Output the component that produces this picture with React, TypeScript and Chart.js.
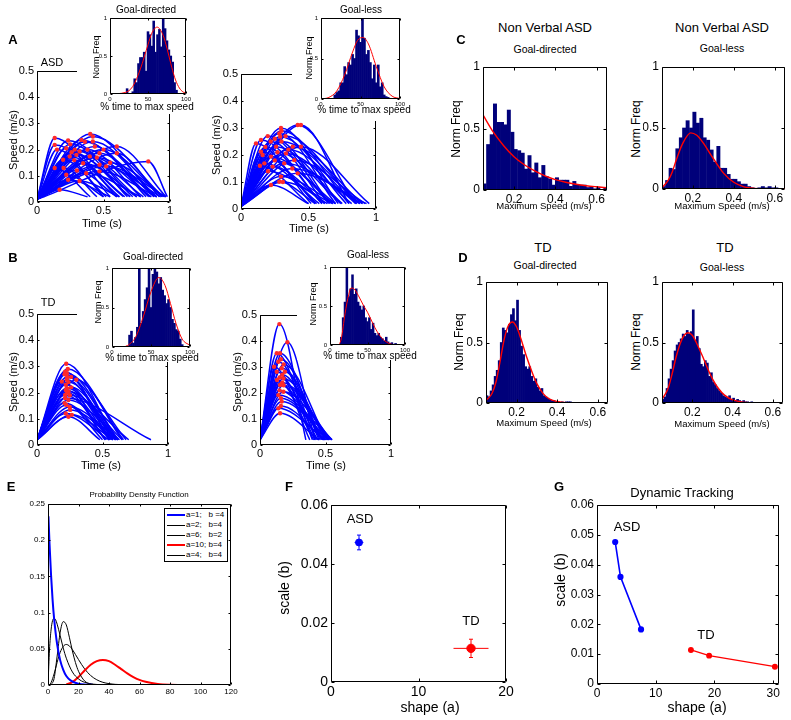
import React, { useEffect, useRef } from 'react';
import { Chart, registerables } from 'chart.js';

Chart.register(...registerables);

const FONT = "'Liberation Sans', Arial, Helvetica, sans-serif";

// ---------------- tick values ----------------
const speedTicksX = [0, 0.5, 1];
const speedTicksY = [0, 0.1, 0.2, 0.3, 0.4, 0.5];
const pctTicksX = [0, 50, 100];
const normTicksY = [0, 0.5, 1];
const maxSpeedTicksX = [0.2, 0.4, 0.6];
const pdfTicksX = [0, 20, 40, 60, 80, 100, 120];
const pdfTicksY = [0, 0.05, 0.1, 0.15, 0.2, 0.25];
const fTicksX = [0, 10, 20];
const fTicksY = [0, 0.02, 0.04, 0.06];
const gTicksX = [0, 10, 20, 30];
const gTicksY = [0, 0.01, 0.02, 0.03, 0.04, 0.05, 0.06];

// ---------------- speed profiles (peak time, peak speed, end time) ----------------
const asdStartSpeed = 0.01;
const tdStartSpeed = 0.02;
const endSpeed = 0.02;

const asdGdPeakT = [0.133, 0.133, 0.133, 0.234, 0.22, 0.284, 0.32, 0.334, 0.347, 0.42, 0.42, 0.435, 0.47, 0.47, 0.52, 0.6, 0.6, 0.837, 0.234, 0.22, 0.37, 0.296, 0.397, 0.196, 0.246, 0.17, 0.47, 0.4, 0.38, 0.25, 0.55, 0.3, 0.15, 0.28, 0.36, 0.45, 0.2, 0.32, 0.5, 0.26];
const asdGdPeakV = [0.244, 0.218, 0.13, 0.235, 0.205, 0.2, 0.193, 0.237, 0.148, 0.25, 0.231, 0.212, 0.186, 0.142, 0.136, 0.212, 0.186, 0.155, 0.085, 0.104, 0.11, 0.18, 0.174, 0.161, 0.174, 0.047, 0.117, 0.26, 0.2, 0.22, 0.15, 0.12, 0.2, 0.16, 0.23, 0.17, 0.13, 0.08, 0.2, 0.19];
const asdGdEndT = [0.55, 0.62, 0.4, 0.72, 0.6, 0.8, 0.68, 0.85, 0.75, 0.95, 0.9, 0.82, 0.88, 0.93, 0.97, 0.97, 0.92, 0.98, 0.55, 0.5, 0.78, 0.7, 0.86, 0.52, 0.65, 0.38, 0.9, 0.88, 0.78, 0.75, 0.96, 0.6, 0.5, 0.66, 0.84, 0.9, 0.45, 0.62, 0.94, 0.7];

const asdGlPeakT = [0.148, 0.198, 0.296, 0.284, 0.29, 0.42, 0.444, 0.444, 0.383, 0.148, 0.222, 0.26, 0.333, 0.395, 0.173, 0.235, 0.32, 0.296, 0.42, 0.222, 0.284, 0.111, 0.3, 0.25, 0.35, 0.18, 0.3, 0.2, 0.16, 0.27, 0.33, 0.22, 0.38, 0.25, 0.14, 0.31];
const asdGlPeakV = [0.256, 0.27, 0.3, 0.28, 0.268, 0.311, 0.311, 0.231, 0.231, 0.212, 0.194, 0.231, 0.206, 0.181, 0.169, 0.157, 0.169, 0.12, 0.132, 0.089, 0.101, 0.243, 0.29, 0.26, 0.22, 0.23, 0.25, 0.14, 0.2, 0.21, 0.27, 0.25, 0.15, 0.18, 0.16, 0.1];
const asdGlEndT = [0.6, 0.65, 0.72, 0.7, 0.78, 0.85, 0.8, 0.95, 0.9, 0.55, 0.68, 0.75, 0.82, 0.92, 0.58, 0.62, 0.88, 0.7, 0.93, 0.5, 0.55, 0.52, 0.8, 0.66, 0.85, 0.6, 0.88, 0.64, 0.56, 0.74, 0.86, 0.62, 0.9, 0.7, 0.5, 0.68];

const tdGdPeakT = [0.223, 0.215, 0.228, 0.228, 0.3, 0.19, 0.228, 0.215, 0.24, 0.223, 0.253, 0.266, 0.24, 0.215, 0.24, 0.23, 0.22, 0.25, 0.21, 0.235, 0.26, 0.22, 0.22, 0.24, 0.21, 0.25, 0.23, 0.26];
const tdGdPeakV = [0.31, 0.28, 0.274, 0.249, 0.249, 0.242, 0.217, 0.191, 0.172, 0.153, 0.134, 0.115, 0.108, 0.179, 0.204, 0.26, 0.23, 0.19, 0.16, 0.29, 0.22, 0.12, 0.21, 0.24, 0.27, 0.145, 0.2, 0.26];
const tdGdEndT = [0.6, 0.55, 0.62, 0.58, 0.65, 0.52, 0.6, 0.56, 0.63, 0.5, 0.6, 0.58, 0.48, 0.87, 0.65, 0.62, 0.57, 0.7, 0.53, 0.66, 0.61, 0.55, 0.56, 0.6, 0.58, 0.62, 0.52, 0.68];

const tdGlPeakT = [0.148, 0.209, 0.128, 0.153, 0.107, 0.166, 0.179, 0.153, 0.14, 0.166, 0.14, 0.153, 0.179, 0.19, 0.128, 0.16, 0.17, 0.15, 0.16, 0.18, 0.15, 0.17, 0.14, 0.16, 0.18, 0.13];
const tdGlPeakV = [0.465, 0.395, 0.353, 0.353, 0.301, 0.295, 0.256, 0.231, 0.192, 0.167, 0.141, 0.122, 0.205, 0.282, 0.282, 0.33, 0.24, 0.26, 0.15, 0.31, 0.21, 0.27, 0.32, 0.18, 0.23, 0.25];
const tdGlEndT = [0.35, 0.42, 0.4, 0.45, 0.38, 0.5, 0.52, 0.48, 0.55, 0.53, 0.5, 0.45, 0.55, 0.46, 0.42, 0.47, 0.54, 0.44, 0.49, 0.51, 0.5, 0.48, 0.43, 0.52, 0.53, 0.41];

// ---------------- inset histograms: % time to max speed ----------------
const asdGdPctX = [22.5, 25, 27.5, 30, 32.5, 35, 37.5, 40, 42.5, 45, 47.5, 50, 52.5, 55, 57.5, 60, 62.5, 65, 67.5, 70, 72.5, 75, 77.5, 80, 82.5, 85, 87.5];
const asdGdPctY = [0.07, 0, 0, 0.03, 0.2, 0.15, 0.4, 0.48, 0.48, 0.55, 0.3, 0.82, 0.78, 0.63, 0.96, 0.55, 0.78, 0.85, 0.62, 1.0, 0.86, 0.7, 0.58, 0.5, 0.42, 0.15, 0.05];
const asdGdPctFitX = [0, 20, 30, 40, 50, 55, 62, 70, 75, 80, 85, 90, 95, 100];
const asdGdPctFitY = [0, 0.02, 0.1, 0.33, 0.65, 0.8, 0.88, 0.77, 0.6, 0.4, 0.22, 0.1, 0.035, 0.01];

const asdGlPctX = [17.5, 20, 22.5, 25, 27.5, 30, 32.5, 35, 37.5, 40, 42.5, 45, 47.5, 50, 52.5, 55, 57.5, 60, 62.5, 65, 67.5, 70, 72.5, 75, 77.5, 80, 82.5, 85];
const asdGlPctY = [0.05, 0.08, 0.1, 0.2, 0.2, 0.4, 0.3, 0.45, 0.42, 0.55, 0.5, 0.85, 0.78, 0.7, 1.0, 0.75, 0.55, 0.6, 0.45, 0.25, 0.42, 0.2, 0.42, 0.15, 0.2, 0.05, 0.03, 0.02];
const asdGlPctFitX = [0, 10, 20, 30, 40, 46, 53, 60, 70, 80, 90, 100];
const asdGlPctFitY = [0, 0.02, 0.1, 0.3, 0.58, 0.72, 0.76, 0.68, 0.4, 0.15, 0.035, 0.005];

const tdGdPctX = [22.5, 25, 27.5, 30, 32.5, 35, 37.5, 40, 42.5, 45, 47.5, 50, 52.5, 55, 57.5, 60, 62.5, 65, 67.5, 70, 72.5, 75, 77.5, 80, 82.5, 85, 87.5, 90];
const tdGdPctY = [0.15, 0.2, 0.05, 0.12, 0.25, 1.0, 0.3, 0.45, 0.6, 0.75, 1.0, 0.5, 0.92, 1.0, 0.95, 0.8, 0.88, 0.72, 0.65, 0.55, 0.6, 0.5, 0.35, 0.3, 0.22, 0.2, 0.1, 0.03];
const tdGdPctFitX = [15, 20, 30, 40, 50, 60, 68, 75, 82, 90, 100];
const tdGdPctFitY = [0, 0.02, 0.12, 0.38, 0.7, 0.88, 0.78, 0.55, 0.3, 0.1, 0.02];

const tdGlPctX = [15, 17.5, 20, 22.5, 25, 27.5, 30, 32.5, 35, 37.5, 40, 42.5, 45, 47.5, 50, 52.5, 55, 57.5, 60, 62.5, 65, 67.5, 70, 72.5, 75, 77.5, 80, 82.5, 85, 87.5];
const tdGlPctY = [0.1, 0.35, 0.55, 1.0, 0.62, 0.72, 0.9, 0.65, 0.72, 0.55, 0.5, 0.45, 0.5, 0.35, 0.3, 0.35, 0.2, 0.28, 0.15, 0.12, 0.15, 0.1, 0.08, 0.05, 0.1, 0.04, 0.02, 0.03, 0.01, 0.02];
const tdGlPctFitX = [12, 15, 20, 25, 28, 32, 38, 45, 50, 55, 60, 65, 70, 75, 80, 85, 100];
const tdGlPctFitY = [0, 0.08, 0.4, 0.65, 0.73, 0.72, 0.63, 0.5, 0.42, 0.32, 0.22, 0.14, 0.08, 0.04, 0.015, 0.005, 0];

// ---------------- max speed histograms ----------------
const nvBinX = [0.058, 0.075, 0.092, 0.108, 0.125, 0.142, 0.158, 0.175, 0.192, 0.208, 0.225, 0.242, 0.258, 0.275, 0.292, 0.308, 0.325, 0.342, 0.358, 0.375, 0.392, 0.408, 0.425, 0.442, 0.458, 0.475, 0.492, 0.508, 0.525, 0.542, 0.558, 0.575, 0.592, 0.608, 0.625, 0.642];
const nvGdFreq = [0.05, 0.37, 0.45, 0.7, 0.55, 0.55, 0.53, 0.65, 0.47, 0.33, 0.32, 0.3, 0.17, 0.28, 0.14, 0.22, 0.1, 0.2, 0.11, 0.09, 0.04, 0.1, 0.08, 0.08, 0.08, 0.03, 0.07, 0.04, 0.04, 0.04, 0.02, 0.03, 0.01, 0.02, 0.0, 0.02];
const nvGdFitX = [0.05, 0.1, 0.15, 0.2, 0.25, 0.3, 0.35, 0.4, 0.45, 0.5, 0.55, 0.6, 0.65];
const nvGdFitY = [0.61, 0.47, 0.36, 0.27, 0.205, 0.155, 0.115, 0.085, 0.063, 0.047, 0.035, 0.026, 0.018];
const nvGlFreq = [0.02, 0.07, 0.17, 0.16, 0.33, 0.42, 0.5, 0.56, 0.5, 0.63, 0.54, 0.58, 0.42, 0.4, 0.32, 0.22, 0.35, 0.17, 0.17, 0.12, 0.08, 0.08, 0.06, 0.04, 0.04, 0.02, 0.01, 0.0, 0.01, 0.02, 0.01, 0.02, 0.01, 0.01, 0.0, 0.0];
const nvGlFitX = [0.05, 0.08, 0.1, 0.12, 0.15, 0.19, 0.22, 0.25, 0.3, 0.35, 0.4, 0.45, 0.5, 0.55, 0.65];
const nvGlFitY = [0.01, 0.07, 0.14, 0.24, 0.37, 0.46, 0.44, 0.38, 0.25, 0.13, 0.055, 0.018, 0.005, 0.001, 0];

const tdBinX = [0.055, 0.065, 0.075, 0.085, 0.095, 0.105, 0.115, 0.125, 0.135, 0.145, 0.155, 0.165, 0.175, 0.185, 0.195, 0.205, 0.215, 0.225, 0.235, 0.245, 0.255, 0.265, 0.275, 0.285, 0.295, 0.305, 0.315, 0.325, 0.335, 0.345, 0.355, 0.365, 0.375, 0.385, 0.395, 0.405, 0.415, 0.425, 0.435, 0.445, 0.455, 0.465, 0.475, 0.485, 0.495, 0.505];
const tdGdFreq = [0.06, 0.05, 0.1, 0.15, 0.22, 0.27, 0.35, 0.5, 0.62, 0.6, 0.58, 0.65, 0.73, 0.78, 0.68, 0.85, 0.6, 0.47, 0.4, 0.3, 0.28, 0.3, 0.22, 0.18, 0.2, 0.13, 0.1, 0.12, 0.06, 0.05, 0.04, 0.03, 0.02, 0.02, 0.01, 0.01, 0.0, 0.01, 0.0, 0.01, 0.01, 0.01, 0, 0, 0, 0];
const tdGdSpeedFitX = [0.05, 0.08, 0.1, 0.12, 0.14, 0.16, 0.18, 0.2, 0.22, 0.25, 0.28, 0.3, 0.33, 0.36, 0.4, 0.45, 0.5];
const tdGdSpeedFitY = [0.02, 0.08, 0.18, 0.35, 0.53, 0.64, 0.67, 0.63, 0.54, 0.38, 0.24, 0.16, 0.08, 0.035, 0.012, 0.002, 0];
const tdGlFreq = [0.03, 0.05, 0.12, 0.2, 0.28, 0.35, 0.43, 0.48, 0.5, 0.53, 0.57, 0.55, 0.6, 0.57, 0.59, 0.77, 0.52, 0.55, 0.45, 0.32, 0.3, 0.35, 0.33, 0.22, 0.25, 0.17, 0.15, 0.12, 0.1, 0.08, 0.06, 0.05, 0.04, 0.06, 0.03, 0.04, 0.02, 0.03, 0.02, 0.01, 0.02, 0.01, 0.01, 0.0, 0.01, 0];
const tdGlSpeedFitX = [0.05, 0.08, 0.1, 0.12, 0.14, 0.16, 0.18, 0.2, 0.22, 0.25, 0.28, 0.3, 0.33, 0.36, 0.4, 0.45, 0.5];
const tdGlSpeedFitY = [0.03, 0.12, 0.24, 0.38, 0.49, 0.56, 0.58, 0.56, 0.5, 0.39, 0.27, 0.2, 0.12, 0.065, 0.025, 0.007, 0.001];

// ---------------- E: probability density functions ----------------
const pdfLabels = ['a=1;   b =4', 'a=2;   b=4', 'a=6;   b=2', 'a=10; b=4', 'a=4;   b=4'];
const pdfColors = ['#0000ff', '#000000', '#000000', '#ff0000', '#000000'];
const pdfWidths = [2, 1, 1, 2, 1];
const pdfA1X = [0.3, 1, 2, 3, 4, 6, 8, 10, 12, 15, 20, 25, 30];
const pdfA1Y = [0.233, 0.195, 0.152, 0.118, 0.092, 0.056, 0.034, 0.021, 0.0125, 0.006, 0.0017, 0.0005, 0.0001];
const pdfA2X = [0, 1, 2, 3, 4, 5, 6, 8, 10, 12, 16, 20, 24, 30, 36, 44];
const pdfA2Y = [0, 0.049, 0.076, 0.089, 0.092, 0.09, 0.084, 0.068, 0.051, 0.037, 0.018, 0.0084, 0.0037, 0.0011, 0.0003, 0.00005];
const pdfA6X = [2, 4, 6, 8, 10, 12, 14, 16, 18, 20, 24, 28, 34];
const pdfA6Y = [0.0003, 0.009, 0.04, 0.073, 0.0875, 0.083, 0.066, 0.047, 0.031, 0.019, 0.0056, 0.0014, 0.0001];
const pdfA10X = [12, 16, 20, 24, 28, 32, 36, 40, 44, 48, 52, 56, 60, 64, 72, 80, 90, 100];
const pdfA10Y = [0.0007, 0.004, 0.011, 0.02, 0.028, 0.033, 0.0347, 0.033, 0.028, 0.022, 0.016, 0.011, 0.007, 0.0045, 0.0015, 0.0004, 0.0001, 0];
const pdfA4X = [1, 2, 4, 6, 8, 10, 12, 14, 16, 20, 24, 28, 32, 36, 44, 56];
const pdfA4Y = [0.0004, 0.0032, 0.0153, 0.0314, 0.0451, 0.0534, 0.056, 0.054, 0.0489, 0.0351, 0.0223, 0.013, 0.0072, 0.0037, 0.0009, 0.0001];

// ---------------- F: shape / scale with error ----------------
const fGroups = ['ASD', 'TD'];
const fColors = ['#0000ff', '#ff0000'];
const fShape = [3.2, 16];
const fScale = [0.0473, 0.0114];
const fShapeErr = [0.5, 2.0];
const fScaleErr = [0.0025, 0.0031];

// ---------------- G: dynamic tracking ----------------
const gAsdShape = [3.1, 4.0, 7.5];
const gAsdScale = [0.0476, 0.0359, 0.0183];
const gTdShape = [16, 19.1, 30.3];
const gTdScale = [0.0114, 0.0095, 0.0058];

// ---------------- helpers ----------------
const toXY = (xs: number[], ys: number[]) => xs.map((x, i) => ({ x, y: ys[i] }));

function xAxis(min: number, max: number, ticks: number[], size: number): any {
  return {
    type: 'linear', position: 'bottom', min, max, offset: false,
    afterBuildTicks: (s: any) => { s.ticks = ticks.map((v) => ({ value: v })); },
    ticks: { color: '#000', font: { family: FONT, size }, padding: 2, maxRotation: 0, minRotation: 0, autoSkip: false, callback: (v: any) => String(v) },
    grid: { display: false, drawTicks: false },
    border: { display: false },
  };
}
function yAxis(min: number, max: number, ticks: number[], size: number): any {
  return {
    type: 'linear', position: 'left', min, max,
    afterBuildTicks: (s: any) => { s.ticks = ticks.map((v) => ({ value: v })); },
    ticks: { color: '#000', font: { family: FONT, size }, padding: 3, autoSkip: false, callback: (v: any) => String(v) },
    grid: { display: false, drawTicks: false },
    border: { display: false },
  };
}
function baseOptions(scales: any, extra: any = {}): any {
  return {
    animation: false, responsive: false, events: [],
    plugins: Object.assign({ legend: { display: false }, tooltip: { enabled: false } }, extra),
    scales,
  };
}

const boxPlugin: any = {
  id: 'mbox',
  defaults: { len: 3 },
  afterDatasetsDraw(chart: any, _a: any, opts: any) {
    const { ctx, chartArea: a } = chart;
    const t = opts.len;
    const l = Math.round(a.left) + 0.5, r = Math.round(a.right) - 0.5;
    const tp = Math.round(a.top) + 0.5, b = Math.round(a.bottom) - 0.5;
    ctx.save();
    ctx.strokeStyle = '#000';
    ctx.lineWidth = 1;
    ctx.beginPath();
    ctx.rect(l, tp, r - l, b - tp);
    const sx = chart.scales.x, sy = chart.scales.y;
    sx.ticks.forEach((tk: any) => {
      const p = Math.round(sx.getPixelForValue(tk.value)) + 0.5;
      ctx.moveTo(p, b); ctx.lineTo(p, b - t);
      ctx.moveTo(p, tp); ctx.lineTo(p, tp + t);
    });
    sy.ticks.forEach((tk: any) => {
      const p = Math.round(sy.getPixelForValue(tk.value)) + 0.5;
      ctx.moveTo(l, p); ctx.lineTo(l + t, p);
      ctx.moveTo(r, p); ctx.lineTo(r - t, p);
    });
    ctx.stroke();
    ctx.restore();
  },
};

const errPlugin: any = {
  id: 'errbars',
  beforeDatasetsDraw(chart: any, _a: any, opts: any) {
    if (!opts || !opts.xs) return;
    const { ctx } = chart;
    const sx = chart.scales.x, sy = chart.scales.y;
    ctx.save();
    ctx.lineWidth = 1;
    opts.xs.forEach((xv: number, i: number) => {
      const yv = opts.ys[i];
      const px = sx.getPixelForValue(xv), py = sy.getPixelForValue(yv);
      const x0 = sx.getPixelForValue(xv - opts.xe[i]), x1 = sx.getPixelForValue(xv + opts.xe[i]);
      const y0 = sy.getPixelForValue(yv - opts.ye[i]), y1 = sy.getPixelForValue(yv + opts.ye[i]);
      ctx.strokeStyle = opts.colors[i];
      ctx.beginPath();
      ctx.moveTo(x0, py); ctx.lineTo(x1, py);
      ctx.moveTo(px, y0); ctx.lineTo(px, y1);
      ctx.moveTo(px - 2, y0); ctx.lineTo(px + 2, y0);
      ctx.moveTo(px - 2, y1); ctx.lineTo(px + 2, y1);
      ctx.stroke();
    });
    ctx.restore();
  },
};

Chart.register(boxPlugin, errPlugin);

function speedConfig(pt: number[], pv: number[], pe: number[], v0: number): any {
  const lines = pt.map((t, i) => ({
    type: 'line',
    data: [{ x: 0, y: v0 }, { x: t, y: pv[i] }, { x: pe[i], y: endSpeed }],
    borderColor: '#0000ff', borderWidth: 1.5, pointRadius: 0,
    cubicInterpolationMode: 'monotone', fill: false, order: 1,
  }));
  const peaks = {
    type: 'scatter', data: toXY(pt, pv), pointRadius: 2.2,
    pointBackgroundColor: '#ff2a2a', pointBorderColor: '#ff2a2a', pointBorderWidth: 0, showLine: false, order: 0,
  };
  return {
    type: 'line',
    data: { datasets: [...lines, peaks] },
    options: baseOptions({ x: xAxis(0, 1, speedTicksX, 11), y: yAxis(0, 0.5, speedTicksY, 11) }, { mbox: { len: 2 } }),
  };
}

function histConfig(bx: number[], by: number[], fx: number[], fy: number[], xmin: number, xmax: number, xt: number[], size: number, lw: number, len: number): any {
  return {
    type: 'bar',
    data: {
      datasets: [
        { type: 'line', data: toXY(fx, fy), borderColor: '#ff0000', borderWidth: lw, pointRadius: 0, cubicInterpolationMode: 'monotone', fill: false, order: 0 },
        { type: 'bar', data: toXY(bx, by), backgroundColor: '#00007a', borderWidth: 0, barPercentage: 1, categoryPercentage: 1, order: 1 },
      ],
    },
    options: baseOptions({ x: xAxis(xmin, xmax, xt, size), y: yAxis(0, 1, normTicksY, size) }, { mbox: { len } }),
  };
}

function pdfConfig(): any {
  const series = [[pdfA1X, pdfA1Y], [pdfA2X, pdfA2Y], [pdfA6X, pdfA6Y], [pdfA10X, pdfA10Y], [pdfA4X, pdfA4Y]];
  return {
    type: 'line',
    data: {
      datasets: series.map((s, i) => ({
        label: pdfLabels[i], data: toXY(s[0], s[1]), borderColor: pdfColors[i], borderWidth: pdfWidths[i],
        pointRadius: 0, cubicInterpolationMode: 'monotone', fill: false,
      })),
    },
    options: baseOptions({ x: xAxis(0, 120, pdfTicksX, 8), y: yAxis(0, 0.25, pdfTicksY, 8) }, { mbox: { len: 2 } }),
  };
}

function fConfig(): any {
  return {
    type: 'scatter',
    data: {
      datasets: fGroups.map((g, i) => ({
        label: g, data: [{ x: fShape[i], y: fScale[i] }], pointRadius: i === 0 ? 3.5 : 4.2,
        pointBackgroundColor: fColors[i], pointBorderColor: fColors[i],
      })),
    },
    options: baseOptions({ x: xAxis(0, 20, fTicksX, 14), y: yAxis(0, 0.06, fTicksY, 14) }, {
      mbox: { len: 3 },
      errbars: { xs: fShape, ys: fScale, xe: fShapeErr, ye: fScaleErr, colors: fColors },
    }),
  };
}

function gConfig(): any {
  return {
    type: 'scatter',
    data: {
      datasets: [
        { label: 'ASD', data: toXY(gAsdShape, gAsdScale), showLine: true, borderColor: '#0000ff', borderWidth: 1.6, pointRadius: 2.3, pointBackgroundColor: '#0000ff', pointBorderColor: '#0000ff' },
        { label: 'TD', data: toXY(gTdShape, gTdScale), showLine: true, borderColor: '#ff0000', borderWidth: 1.3, pointRadius: 2.3, pointBackgroundColor: '#ff0000', pointBorderColor: '#ff0000' },
      ],
    },
    options: baseOptions({ x: xAxis(0, 31, gTicksX, 12), y: yAxis(0, 0.06, gTicksY, 12) }, { mbox: { len: 3 } }),
  };
}

type Box = { x: number; y: number; w: number; h: number };

function ChartBox({ canvas, plot, make, bg }: { canvas: Box; plot: Box; make: () => any; bg?: string }) {
  const ref = useRef<HTMLCanvasElement | null>(null);
  useEffect(() => {
    if (!ref.current) return;
    const L = plot.x - canvas.x;
    const T = plot.y - canvas.y;
    const R = canvas.x + canvas.w - (plot.x + plot.w);
    const B = canvas.y + canvas.h - (plot.y + plot.h);
    const cfg = make();
    cfg.options.layout = { padding: { top: T, right: R, bottom: 0, left: 0 } };
    cfg.options.devicePixelRatio = 1;
    cfg.options.scales.x.afterFit = (s: any) => { s.height = B; s.paddingLeft = 0; s.paddingRight = 0; };
    cfg.options.scales.y.afterFit = (s: any) => { s.width = L; s.paddingTop = 0; s.paddingBottom = 0; };
    const chart = new Chart(ref.current, cfg);
    return () => chart.destroy();
  }, []);
  return (
    <canvas
      ref={ref}
      width={canvas.w}
      height={canvas.h}
      style={{ position: 'absolute', left: canvas.x, top: canvas.y, width: canvas.w, height: canvas.h, background: bg || 'transparent' }}
    />
  );
}

function T({ x, y, s, t, b, r }: { x: number; y: number; s: number; t: string; b?: boolean; r?: boolean }) {
  return (
    <div
      style={{
        position: 'absolute', left: x, top: y,
        transform: `translate(-50%, -50%)${r ? ' rotate(-90deg)' : ''}`,
        fontSize: s, fontWeight: b ? 'bold' : 'normal', whiteSpace: 'pre', lineHeight: 1,
        color: '#000', fontFamily: FONT,
      }}
    >
      {t}
    </div>
  );
}

export default function App() {
  return (
    <div style={{ position: 'absolute', left: 0, top: 0, width: 791, height: 720, background: '#fff', overflow: 'hidden', fontFamily: FONT }}>
      {/* A */}
      <ChartBox canvas={{ x: 0, y: 62, w: 180, h: 154 }} plot={{ x: 37, y: 71, w: 133, h: 131 }} make={() => speedConfig(asdGdPeakT, asdGdPeakV, asdGdEndT, asdStartSpeed)} />
      <ChartBox canvas={{ x: 77, y: 0, w: 118, h: 114 }} plot={{ x: 110, y: 18, w: 76, h: 76 }} bg="#fff" make={() => histConfig(asdGdPctX, asdGdPctY, asdGdPctFitX, asdGdPctFitY, 0, 100, pctTicksX, 6, 1, 2)} />
      <ChartBox canvas={{ x: 200, y: 65, w: 186, h: 158 }} plot={{ x: 241, y: 74, w: 135, h: 135 }} make={() => speedConfig(asdGlPeakT, asdGlPeakV, asdGlEndT, asdStartSpeed)} />
      <ChartBox canvas={{ x: 292, y: 0, w: 118, h: 121 }} plot={{ x: 321, y: 18, w: 79, h: 81 }} bg="#fff" make={() => histConfig(asdGlPctX, asdGlPctY, asdGlPctFitX, asdGlPctFitY, 0, 100, pctTicksX, 6, 1, 2)} />
      {/* B */}
      <ChartBox canvas={{ x: 0, y: 305, w: 180, h: 154 }} plot={{ x: 37, y: 314, w: 131, h: 131 }} make={() => speedConfig(tdGdPeakT, tdGdPeakV, tdGdEndT, tdStartSpeed)} />
      <ChartBox canvas={{ x: 77, y: 245, w: 118, h: 117 }} plot={{ x: 112, y: 268, w: 78, h: 79 }} bg="#fff" make={() => histConfig(tdGdPctX, tdGdPctY, tdGdPctFitX, tdGdPctFitY, 0, 100, pctTicksX, 6, 1, 2)} />
      <ChartBox canvas={{ x: 205, y: 306, w: 195, h: 153 }} plot={{ x: 260, y: 315, w: 131, h: 130 }} make={() => speedConfig(tdGlPeakT, tdGlPeakV, tdGlEndT, tdStartSpeed)} />
      <ChartBox canvas={{ x: 297, y: 243, w: 115, h: 117 }} plot={{ x: 330, y: 267, w: 75, h: 78 }} bg="#fff" make={() => histConfig(tdGlPctX, tdGlPctY, tdGlPctFitX, tdGlPctFitY, 0, 100, pctTicksX, 6, 1, 2)} />
      {/* C */}
      <ChartBox canvas={{ x: 464, y: 60, w: 151, h: 146 }} plot={{ x: 483, y: 67, w: 124, h: 123 }} make={() => histConfig(nvBinX, nvGdFreq, nvGdFitX, nvGdFitY, 0.05, 0.65, maxSpeedTicksX, 12, 1.4, 3)} />
      <ChartBox canvas={{ x: 643, y: 60, w: 148, h: 146 }} plot={{ x: 662, y: 67, w: 123, h: 122 }} make={() => histConfig(nvBinX, nvGlFreq, nvGlFitX, nvGlFitY, 0.05, 0.65, maxSpeedTicksX, 12, 1.4, 3)} />
      {/* D */}
      <ChartBox canvas={{ x: 467, y: 275, w: 149, h: 144 }} plot={{ x: 486, y: 282, w: 122, h: 121 }} make={() => histConfig(tdBinX, tdGdFreq, tdGdSpeedFitX, tdGdSpeedFitY, 0.05, 0.65, maxSpeedTicksX, 12, 1.4, 3)} />
      <ChartBox canvas={{ x: 643, y: 275, w: 148, h: 144 }} plot={{ x: 662, y: 282, w: 121, h: 121 }} make={() => histConfig(tdBinX, tdGlFreq, tdGlSpeedFitX, tdGlSpeedFitY, 0.05, 0.65, maxSpeedTicksX, 12, 1.4, 3)} />
      {/* E, F, G */}
      <ChartBox canvas={{ x: 18, y: 498, w: 222, h: 202 }} plot={{ x: 48, y: 504, w: 183, h: 181 }} make={pdfConfig} />
      <ChartBox canvas={{ x: 290, y: 496, w: 225, h: 204 }} plot={{ x: 331, y: 505, w: 175, h: 177 }} make={fConfig} />
      <ChartBox canvas={{ x: 562, y: 496, w: 229, h: 206 }} plot={{ x: 597, y: 505, w: 182, h: 179 }} make={gConfig} />

      {/* text: A */}
      <T x={13} y={39} s={13} b t="A" />
      <T x={52} y={62} s={11} t="ASD" />
      <T x={13} y={140} s={11} r t="Speed (m/s)" />
      <T x={102} y={223} s={11} t="Time (s)" />
      <T x={146} y={10} s={10} t="Goal-directed" />
      <T x={96} y={57} s={9} r t="Norm Freq" />
      <T x={147} y={107} s={10} t="% time to max speed" />
      <T x={216} y={145} s={11} r t="Speed (m/s)" />
      <T x={309} y={228} s={11} t="Time (s)" />
      <T x={361} y={10} s={10} t="Goal-less" />
      <T x={309} y={58} s={9} r t="Norm Freq" />
      <T x={364} y={110} s={10} t="% time to max speed" />
      {/* text: B */}
      <T x={13} y={257} s={13} b t="B" />
      <T x={48} y={302} s={11} t="TD" />
      <T x={13} y={382} s={11} r t="Speed (m/s)" />
      <T x={101} y={465} s={11} t="Time (s)" />
      <T x={153} y={257} s={10} t="Goal-directed" />
      <T x={98} y={302} s={9} r t="Norm Freq" />
      <T x={152} y={358} s={10} t="% time to max speed" />
      <T x={237} y={382} s={11} r t="Speed (m/s)" />
      <T x={326} y={465} s={11} t="Time (s)" />
      <T x={368} y={255} s={10} t="Goal-less" />
      <T x={313} y={304} s={9} r t="Norm Freq" />
      <T x={370} y={356} s={10} t="% time to max speed" />
      {/* text: C */}
      <T x={461} y={39} s={13} b t="C" />
      <T x={545} y={27} s={13} t="Non Verbal ASD" />
      <T x={722} y={27} s={13} t="Non Verbal ASD" />
      <T x={545} y={49} s={10.5} t="Goal-directed" />
      <T x={722} y={48} s={10.5} t="Goal-less" />
      <T x={456} y={129} s={12} r t="Norm Freq" />
      <T x={636} y={129} s={12} r t="Norm Freq" />
      <T x={544} y={206} s={9.5} t="Maximum Speed (m/s)" />
      <T x={722} y={206} s={9.5} t="Maximum Speed (m/s)" />
      {/* text: D */}
      <T x={463} y={257} s={13} b t="D" />
      <T x={543} y={247} s={13} t="TD" />
      <T x={725} y={247} s={13} t="TD" />
      <T x={545} y={265} s={10.5} t="Goal-directed" />
      <T x={722} y={267} s={10.5} t="Goal-less" />
      <T x={459} y={342} s={12} r t="Norm Freq" />
      <T x={636} y={342} s={12} r t="Norm Freq" />
      <T x={544} y={423} s={9.5} t="Maximum Speed (m/s)" />
      <T x={722} y={424} s={9.5} t="Maximum Speed (m/s)" />
      {/* text: E */}
      <T x={11} y={486} s={13} b t="E" />
      <T x={139} y={495} s={8} t="Probability Density Function" />
      <div style={{ position: 'absolute', left: 164, top: 508, width: 64, height: 54, border: '1px solid #000', background: '#fff', boxSizing: 'border-box' }}>
        {pdfLabels.map((lab, i) => (
          <div key={i} style={{ position: 'absolute', left: 2, top: 1 + i * 10, height: 10, display: 'flex', alignItems: 'center', fontSize: 8, fontFamily: FONT, whiteSpace: 'pre', lineHeight: 1 }}>
            <span style={{ display: 'inline-block', width: 18, height: 0, borderTop: `${pdfWidths[i]}px solid ${pdfColors[i]}`, marginRight: 1 }} />
            <span>{lab}</span>
          </div>
        ))}
      </div>
      {/* text: F */}
      <T x={289} y={486} s={13} b t="F" />
      <T x={360} y={518} s={13} t="ASD" />
      <T x={471} y={620} s={13} t="TD" />
      <T x={284} y={588} s={14} r t="scale (b)" />
      <T x={430} y={707} s={14} t="shape (a)" />
      {/* text: G */}
      <T x={559} y={486} s={13} b t="G" />
      <T x={682} y={492} s={13} t="Dynamic Tracking" />
      <T x={627} y={526} s={13} t="ASD" />
      <T x={706} y={634} s={13} t="TD" />
      <T x={560} y={580} s={14} r t="scale (b)" />
      <T x={697} y={707} s={14} t="shape (a)" />
    </div>
  );
}
